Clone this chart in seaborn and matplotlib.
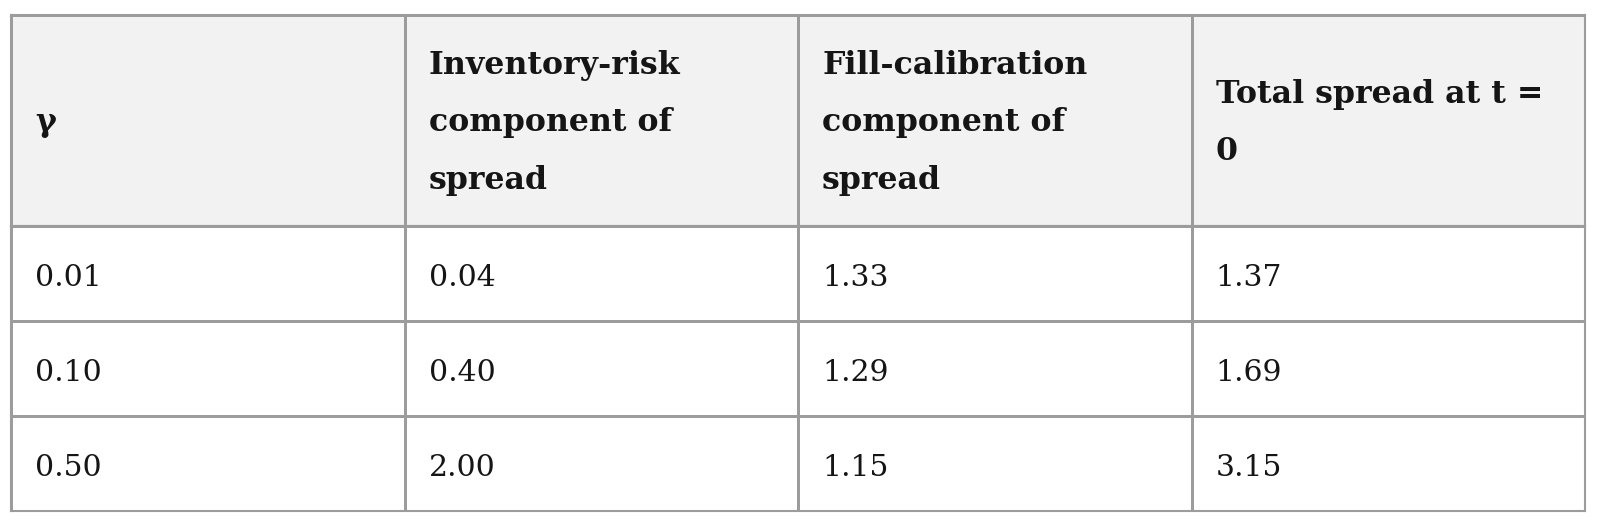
import numpy as np
import pandas as pd
import matplotlib
matplotlib.use("Agg")
import matplotlib.pyplot as plt
import seaborn as sns
from matplotlib.colors import ListedColormap

# ---- data ----
headers = ["γ",
           "Inventory-risk\ncomponent of\nspread",
           "Fill-calibration\ncomponent of\nspread",
           "Total spread at t =\n0"]
gamma = [0.01, 0.10, 0.50]
inventory_risk = [0.04, 0.40, 2.00]
fill_calibration = [1.33, 1.29, 1.15]
total_spread = [1.37, 1.69, 3.15]

df = pd.DataFrame({headers[0]: gamma, headers[1]: inventory_risk,
                   headers[2]: fill_calibration, headers[3]: total_spread})

# ---- style ----
sns.set_theme(style="white")
plt.rcParams["font.family"] = ["DejaVu Serif", "DejaVu Sans"]

W, H = 1600, 529
fig = plt.figure(figsize=(W / 100, H / 100), dpi=100)
fig.patch.set_facecolor("white")

left_px, right_px = 11, 1585
top_px, head_bot_px, bot_px = 15, 226, 511
line_col = "#9c9c9c"
text_col = "#151515"
lw = 1.5

def px_axes(t, b):
    return fig.add_axes([left_px / W, 1 - b / H, (right_px - left_px) / W, (b - t) / H])

ax_h = px_axes(top_px, head_bot_px)
ax_b = px_axes(head_bot_px, bot_px)

ncol = df.shape[1]
nrow = df.shape[0]

sns.heatmap(np.zeros((1, ncol)), ax=ax_h, cmap=ListedColormap(["#f2f2f2"]), cbar=False,
            linewidths=lw * 1.33, linecolor=line_col, xticklabels=False, yticklabels=False)
sns.heatmap(np.zeros((nrow, ncol)), ax=ax_b, cmap=ListedColormap(["#ffffff"]), cbar=False,
            linewidths=lw * 1.33, linecolor=line_col, xticklabels=False, yticklabels=False)

for ax in (ax_h, ax_b):
    for s in ax.spines.values():
        s.set_visible(True)
        s.set_color(line_col)
        s.set_linewidth(lw)

col_px = (right_px - left_px) / ncol
pad = 24 / col_px
head_h = head_bot_px - top_px
row_h = (bot_px - head_bot_px) / nrow
pitch = 57.5
base_off = 11

for j, h in enumerate(df.columns):
    lines = h.split("\n")
    n = len(lines)
    for k, ln in enumerate(lines):
        y = 0.5 + (base_off + (k - (n - 1) / 2) * pitch) / head_h
        ax_h.text(j + pad, y, ln, ha="left", va="baseline", fontsize=22.8,
                  fontweight="bold", color=text_col)

for i in range(nrow):
    for j, c in enumerate(df.columns):
        y = i + 0.5 + 12.5 / row_h
        ax_b.text(j + pad, y, f"{df.iloc[i, j]:.2f}", ha="left", va="baseline",
                  fontsize=21.5, color=text_col)

fig.savefig("out.png", dpi=100, facecolor="white")
